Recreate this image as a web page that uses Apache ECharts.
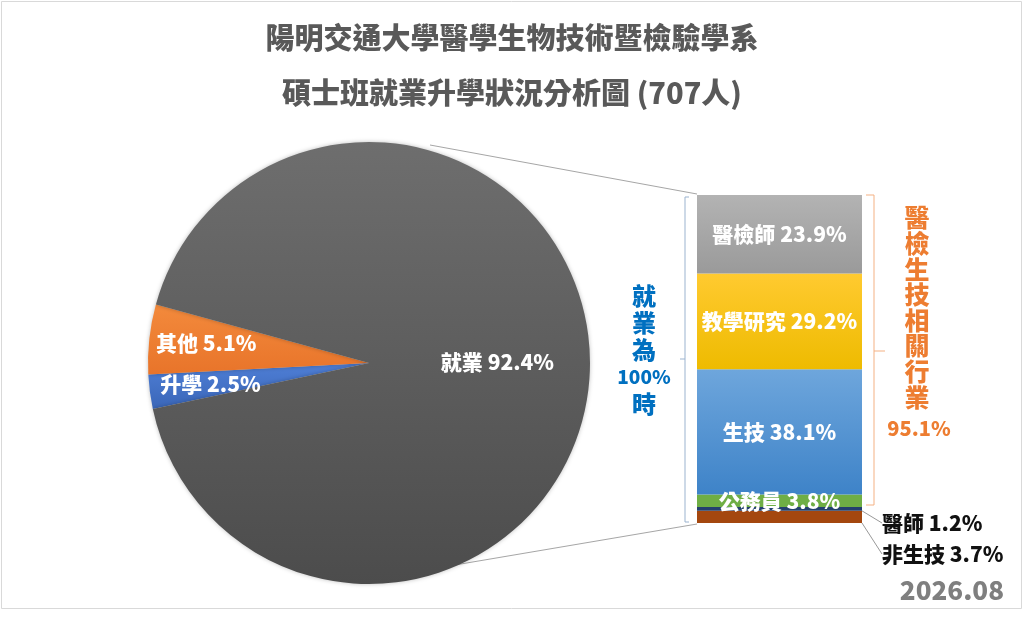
<!DOCTYPE html>
<html>
<head>
<meta charset="utf-8">
<script src="https://cdn.jsdelivr.net/npm/echarts@6/dist/echarts.min.js"></script>
<style>
  html, body { margin: 0; padding: 0; background: #fff; }
  #chart { width: 1024px; height: 617px; }
</style>
</head>
<body>
<div id="chart"></div>
<script>
// 圓餅圖：整體去向
const pieNames = ['升學', '其他', '就業'];
const pieValues = [2.5, 5.1, 92.4];

// 堆疊長條：就業細項（由下往上）
const barNames = ['非生技', '醫師', '公務員', '生技', '教學研究', '醫檢師'];
const barValues = [3.7, 1.2, 3.8, 38.1, 29.2, 23.9];

const titleLines = ['陽明交通大學醫學生物技術暨檢驗學系', '碩士班就業升學狀況分析圖 (707人)'];
const relatedText = '醫檢生技相關行業';
const relatedPct = '95.1%';
const dateText = '2026.08';

const FONT = '"Noto Sans CJK TC", "Noto Sans", sans-serif';
const W = 900;

const grad = (top, bottom) => new echarts.graphic.LinearGradient(0, 0, 0, 1, [
  { offset: 0, color: top }, { offset: 1, color: bottom }
]);

const pieColors = [grad('#4f7fd6', '#3a66b8'), grad('#f38a3c', '#e8742a'), grad('#6e6e6e', '#4c4c4c')];
const barColors = [
  '#a4470f', '#24406e', '#6fae45',
  grad('#6ea6dc', '#3e83c8'),
  grad('#ffca30', '#eebb00'),
  grad('#b3b3b3', '#9a9a9a')
];

// 標籤微調（圓餅內文字位置）
const pieLabelShift = [[-46, 6], [-50, -8], [15, -4]];

const chart = echarts.init(document.getElementById('chart'));

const barSeries = barNames.map((name, i) => {
  const outside = i < 2;
  return {
    name: name,
    type: 'bar',
    stack: 'job',
    barWidth: '100%',
    data: [barValues[i]],
    itemStyle: { color: barColors[i] },
    label: {
      show: true,
      position: outside ? 'right' : 'inside',
      formatter: name + ' ' + barValues[i].toFixed(1) + '%',
      color: outside ? '#111' : '#fff',
      fontFamily: FONT,
      fontWeight: W,
      fontSize: 21
    },
    labelLine: outside ? { show: true, lineStyle: { color: '#999', width: 1 } } : { show: false },
    labelLayout: outside ? { x: 882, y: i === 0 ? 554 : 523, align: 'left', verticalAlign: 'middle' } : undefined,
    emphasis: { disabled: true }
  };
});

const option = {
  backgroundColor: '#fff',
  animation: false,
  title: [
    {
      text: titleLines[0], left: 'center', top: 18,
      textStyle: { fontFamily: FONT, fontSize: 29, fontWeight: W, color: '#595959' }
    },
    {
      text: titleLines[1], left: 'center', top: 73,
      textStyle: { fontFamily: FONT, fontSize: 29, fontWeight: W, color: '#595959' }
    }
  ],
  grid: { left: 697, top: 195, width: 165, height: 328 },
  xAxis: { type: 'category', data: ['就業'], show: false },
  yAxis: {
    type: 'value', show: false, min: 0,
    max: barValues.reduce((a, b) => a + b, 0)
  },
  series: [
    {
      type: 'pie',
      center: [369, 363],
      radius: 221,
      startAngle: 192,
      clockwise: true,
      data: pieNames.map((n, i) => ({ name: n, value: pieValues[i], itemStyle: { color: pieColors[i] } })),
      itemStyle: { shadowBlur: 4, shadowColor: 'rgba(0,0,0,0.25)' },
      label: {
        show: true,
        position: 'inside',
        formatter: p => p.name + ' ' + p.value.toFixed(1) + '%',
        color: '#fff',
        fontFamily: FONT,
        fontWeight: W,
        fontSize: 21
      },
      labelLayout: p => ({ dx: pieLabelShift[p.dataIndex][0], dy: pieLabelShift[p.dataIndex][1] }),
      emphasis: { disabled: true }
    },
    ...barSeries
  ],
  graphic: [
    // 外框
    { type: 'rect', shape: { x: 1.5, y: 1.5, width: 1020, height: 607 }, style: { fill: 'none', stroke: '#d9d9d9', lineWidth: 1 }, silent: true },
    // 圓餅到長條的連接線
    { type: 'line', shape: { x1: 430, y1: 145, x2: 697, y2: 194 }, style: { stroke: '#a6a6a6', lineWidth: 1 }, silent: true },
    { type: 'line', shape: { x1: 443, y1: 567, x2: 697, y2: 524 }, style: { stroke: '#a6a6a6', lineWidth: 1 }, silent: true },
    // 左側括號
    { type: 'polyline', shape: { points: [[689, 197], [685, 197], [685, 522], [689, 522]] }, style: { stroke: '#9bb3cf', lineWidth: 1, fill: 'none' }, silent: true },
    { type: 'line', shape: { x1: 685, y1: 359, x2: 680, y2: 359 }, style: { stroke: '#9bb3cf', lineWidth: 1 }, silent: true },
    // 右側括號
    { type: 'polyline', shape: { points: [[866, 195], [874, 195], [874, 505], [866, 505]] }, style: { stroke: '#f4b183', lineWidth: 1, fill: 'none' }, silent: true },
    { type: 'line', shape: { x1: 874, y1: 351, x2: 885, y2: 351 }, style: { stroke: '#f4b183', lineWidth: 1 }, silent: true },
    // 就業為100%時
    {
      type: 'text', x: 644, y: 282, silent: true,
      style: {
        text: '{a|就}\n{a|業}\n{a|為}\n{b|100%}\n{a|時}',
        align: 'center', verticalAlign: 'top',
        fill: '#0070c0', fontFamily: FONT, fontWeight: W,
        rich: {
          a: { fontSize: 24, lineHeight: 27, fontFamily: FONT, fontWeight: W, fill: '#0070c0', align: 'center' },
          b: { fontSize: 19, lineHeight: 27, fontFamily: FONT, fontWeight: W, fill: '#0070c0', align: 'center' }
        }
      }
    },
    // 醫檢生技相關行業
    {
      type: 'text', x: 917, y: 205, silent: true,
      style: {
        text: relatedText.split('').join('\n'),
        fill: '#ed7d31', fontFamily: FONT, fontWeight: W,
        fontSize: 25, lineHeight: 25.6, align: 'center', verticalAlign: 'top'
      }
    },
    {
      type: 'text', x: 919, y: 428, silent: true,
      style: { text: relatedPct, fill: '#ed7d31', fontFamily: FONT, fontWeight: W, fontSize: 20, align: 'center', verticalAlign: 'middle' }
    },
    {
      type: 'text', x: 1004, y: 590, silent: true,
      style: { text: dateText, fill: '#7f7f7f', fontFamily: FONT, fontWeight: W, fontSize: 26, align: 'right', verticalAlign: 'middle' }
    }
  ]
};

chart.setOption(option);
</script>
</body>
</html>
